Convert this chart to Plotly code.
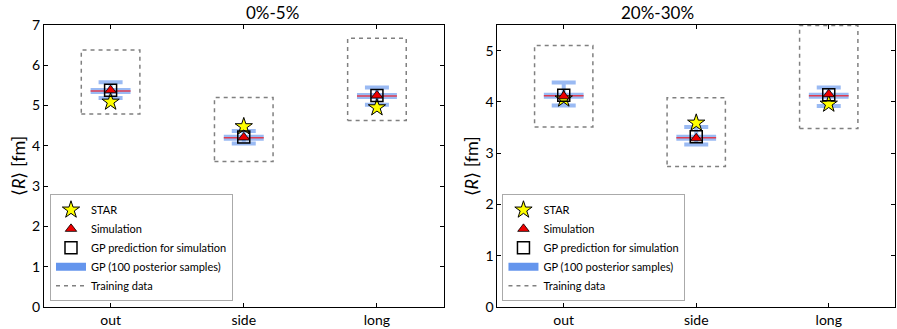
import plotly.graph_objects as go

categories = ["out", "side", "long"]
titles = ["0%-5%", "20%-30%"]
y_ranges = [[0, 7], [0, 5.5]]

# panel 0: 0%-5%, panel 1: 20%-30%
train_lo = [[4.79, 3.61, 4.63], [3.51, 2.74, 3.48]]
train_hi = [[6.38, 5.20, 6.67], [5.10, 4.08, 5.49]]
star_vals = [[5.09, 4.48, 4.95], [4.06, 3.59, 3.96]]
sim_vals = [[5.38, 4.21, 5.25], [4.11, 3.29, 4.15]]
gp_pred = [[5.38, 4.22, 5.25], [4.13, 3.32, 4.14]]
gp_mid = [[5.36, 4.20, 5.24], [4.12, 3.30, 4.12]]
gp_hi = [[5.58, 4.37, 5.45], [4.38, 3.51, 4.28]]
gp_lo = [[5.19, 4.06, 5.02], [3.93, 3.17, 3.92]]

BOX_HW = 0.22
BAND_HW = 0.15
FONT = "Lato"
BLUE = "rgba(100,149,237,0.65)"

fig = go.Figure()
xs = [0, 1, 2]

for p in range(2):
    xa = "x" if p == 0 else "x2"
    ya = "y" if p == 0 else "y2"
    lg = "legend" if p == 0 else "legend2"
    bx, by = [], []
    for i in range(3):
        bx += [xs[i] - BOX_HW, xs[i] + BOX_HW, xs[i] + BOX_HW, xs[i] - BOX_HW, xs[i] - BOX_HW, None]
        by += [train_lo[p][i], train_lo[p][i], train_hi[p][i], train_hi[p][i], train_lo[p][i], None]
    fig.add_trace(go.Scatter(
        x=xs, y=gp_mid[p], mode="markers", marker=dict(size=1, color="rgba(0,0,0,0)"),
        error_y=dict(type="data", symmetric=False,
                     array=[gp_hi[p][i] - gp_mid[p][i] for i in range(3)],
                     arrayminus=[gp_mid[p][i] - gp_lo[p][i] for i in range(3)],
                     color=BLUE, thickness=4, width=12),
        xaxis=xa, yaxis=ya, showlegend=False, hoverinfo="skip"))
    hx, hy = [], []
    for i in range(3):
        hx += [xs[i] - BAND_HW, xs[i] + BAND_HW, None]
        hy += [gp_mid[p][i], gp_mid[p][i], None]
    fig.add_trace(go.Scatter(x=hx, y=hy, mode="lines", line=dict(color=BLUE, width=6),
                             xaxis=xa, yaxis=ya, showlegend=False, hoverinfo="skip"))
    fig.add_trace(go.Scatter(x=hx, y=hy, mode="lines", line=dict(color="rgb(222,60,80)", width=1.5),
                             xaxis=xa, yaxis=ya, showlegend=False, hoverinfo="skip"))
    fig.add_trace(go.Scatter(x=xs, y=star_vals[p], mode="markers", name="STAR",
                             marker=dict(symbol="star", size=13, color="#ffff00",
                                         line=dict(color="black", width=1)),
                             xaxis=xa, yaxis=ya, legend=lg, legendrank=1))
    fig.add_trace(go.Scatter(x=xs, y=gp_pred[p], mode="markers", name="GP prediction for simulation",
                             marker=dict(symbol="square-open", size=12, color="black",
                                         line=dict(color="black", width=1.5)),
                             xaxis=xa, yaxis=ya, legend=lg, legendrank=3))
    fig.add_trace(go.Scatter(x=xs, y=sim_vals[p], mode="markers", name="Simulation",
                             marker=dict(symbol="triangle-up", size=10, color="#ee0000",
                                         line=dict(color="black", width=0.8)),
                             xaxis=xa, yaxis=ya, legend=lg, legendrank=2))
    fig.add_trace(go.Scatter(x=[None], y=[None], mode="lines", name="GP (100 posterior samples)",
                             line=dict(color="rgb(100,149,237)", width=8),
                             xaxis=xa, yaxis=ya, legend=lg, legendrank=4))
    fig.add_trace(go.Scatter(x=bx, y=by, mode="lines", name="Training data",
                             line=dict(color="rgb(128,128,128)", width=1.5, dash="4px,4px"),
                             xaxis=xa, yaxis=ya, legend=lg, legendrank=5, hoverinfo="skip"))

W, H = 897, 329
L, R, T, B = 44, 1, 25, 17
pw = W - L - R
d1 = [0, 400 / pw]
d2 = [(498 - L) / pw, 1]

axis_common = dict(showgrid=False, zeroline=False, showline=True, linecolor="black", linewidth=1,
                   mirror="ticks", ticks="inside", ticklen=4, tickcolor="black",
                   tickfont=dict(family=FONT, size=14, color="black"))

leg_common = dict(xanchor="left", yanchor="bottom", bordercolor="#aaaaaa", borderwidth=1,
                  bgcolor="white", font=dict(family=FONT, size=11), tracegroupgap=0,
                  itemwidth=30)

fig.update_layout(
    width=W, height=H, margin=dict(l=L, r=R, t=T, b=B),
    plot_bgcolor="white", paper_bgcolor="white",
    font=dict(family=FONT, color="black"),
    xaxis=dict(domain=d1, range=[-0.5, 2.5], tickvals=xs, ticktext=categories, **axis_common),
    xaxis2=dict(domain=d2, range=[-0.5, 2.5], tickvals=xs, ticktext=categories, anchor="y2", **axis_common),
    yaxis=dict(range=y_ranges[0], dtick=1, **axis_common),
    yaxis2=dict(range=y_ranges[1], dtick=1, anchor="x2", **axis_common),
    legend=dict(x=(50 - L) / pw, y=0.02, **leg_common),
    legend2=dict(x=(503 - L) / pw, y=0.02, **leg_common),
    showlegend=True,
)

for p, d in enumerate([d1, d2]):
    fig.add_annotation(text=titles[p], xref="paper", yref="paper", x=(d[0] + d[1]) / 2, y=1,
                       yanchor="bottom", yshift=0, showarrow=False,
                       font=dict(family=FONT, size=17, color="black"))
    fig.add_annotation(text="⟨<i>R</i>⟩ [fm]", xref="paper", yref="paper",
                       x=d[0] - 26 / pw, y=0.5, textangle=-90, showarrow=False,
                       xanchor="center", yanchor="middle",
                       font=dict(family=FONT, size=18, color="black"))

fig.write_html("out.html")
